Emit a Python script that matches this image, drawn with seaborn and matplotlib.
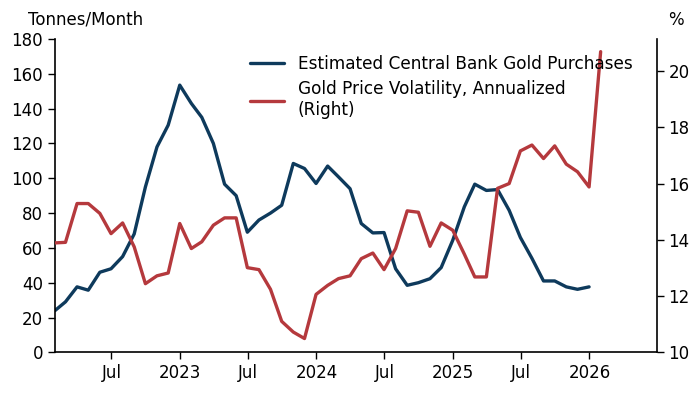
import numpy as np
import pandas as pd
import matplotlib
matplotlib.use("Agg")
import matplotlib.pyplot as plt
import seaborn as sns

# monthly series, month-end dates
purchases = [24, 29, 37.6, 35.7, 46, 48, 55, 68, 95, 118, 130.5,
             153.5, 143, 135, 120, 96.6, 90, 69, 76, 80, 84.5, 108.5, 105.6,
             97, 107, 100.8, 94, 74, 68.6, 68.8, 48, 38.5, 40, 42.3, 48.7,
             64.4, 83.6, 96.6, 93, 93.5, 81.6, 66, 54, 41, 41, 37.6, 36.2,
             37.6]
volatility = [13.89, 13.91, 15.29, 15.29, 14.94, 14.22, 14.6, 13.75, 12.44, 12.72, 12.82,
              14.58, 13.69, 13.93, 14.52, 14.78, 14.78, 13.01, 12.94, 12.24, 11.1, 10.72, 10.49,
              12.06, 12.38, 12.62, 12.72, 13.33, 13.53, 12.94, 13.69, 15.03, 14.98, 13.77, 14.6,
              14.34, 13.49, 12.68, 12.68, 15.83, 16.0, 17.16, 17.37, 16.89, 17.34, 16.69, 16.42,
              15.88, 20.69]

blue_dates = pd.date_range("2022-01-31", periods=len(purchases), freq="ME")
red_dates = pd.date_range("2022-01-31", periods=len(volatility), freq="ME")

blue_df = pd.DataFrame({"date": blue_dates, "value": purchases})
red_df = pd.DataFrame({"date": red_dates, "value": volatility})

sns.set_style("ticks")
plt.rcParams["font.family"] = ["DejaVu Sans"]
plt.rcParams["text.color"] = "black"

blue = "#0e3a5c"
red = "#b5393d"

fig = plt.figure(figsize=(7, 3.94), dpi=100)
ax = fig.add_axes([0.0786, 0.1058, 0.8595, 0.7952])
ax2 = ax.twinx()

sns.lineplot(data=blue_df, x="date", y="value", ax=ax, color=blue, lw=2.4,
             label="Estimated Central Bank Gold Purchases", legend=False)
sns.lineplot(data=red_df, x="date", y="value", ax=ax2, color=red, lw=2.4,
             label="Gold Price Volatility, Annualized\n(Right)", legend=False)

ax.set_xlim(pd.Timestamp("2022-01-31"), pd.Timestamp("2026-06-30"))
ax.set_ylim(0, 180)
ax.set_yticks(np.arange(0, 181, 20))
ax2.set_ylim(10, 21.14)
ax2.set_yticks(np.arange(10, 21, 2))

ticks = pd.to_datetime(["2022-07-01", "2023-01-01", "2023-07-01", "2024-01-01",
                        "2024-07-01", "2025-01-01", "2025-07-01", "2026-01-01"])
ax.set_xticks(ticks)
ax.set_xticklabels(["Jul" if t.month == 7 else str(t.year) for t in ticks])

for a in (ax, ax2):
    a.set_xlabel("")
    a.set_ylabel("")
    a.tick_params(labelsize=12, length=5, width=1, colors="black")
    a.spines["top"].set_visible(False)
    for s in ("left", "right", "bottom"):
        a.spines[s].set_linewidth(1.2)
        a.spines[s].set_color("black")
ax.spines["right"].set_visible(False)
ax2.spines["right"].set_visible(True)
ax2.spines["left"].set_visible(False)
ax2.spines["bottom"].set_visible(False)

fig.text(0.04, 0.95, "Tonnes/Month", fontsize=12, va="center", ha="left", color="black")
fig.text(0.965, 0.95, "%", fontsize=12, va="center", ha="center", color="black")

h1, l1 = ax.get_legend_handles_labels()
h2, l2 = ax2.get_legend_handles_labels()
leg = ax2.legend(h1 + h2, l1 + l2, loc="upper left", bbox_to_anchor=(0.313, 0.972),
                 frameon=False, fontsize=12.2, handlelength=2.0, handletextpad=0.8,
                 labelspacing=0.45, borderaxespad=0)
for t in leg.get_texts():
    t.set_color("black")

fig.savefig("out.png", dpi=100)
